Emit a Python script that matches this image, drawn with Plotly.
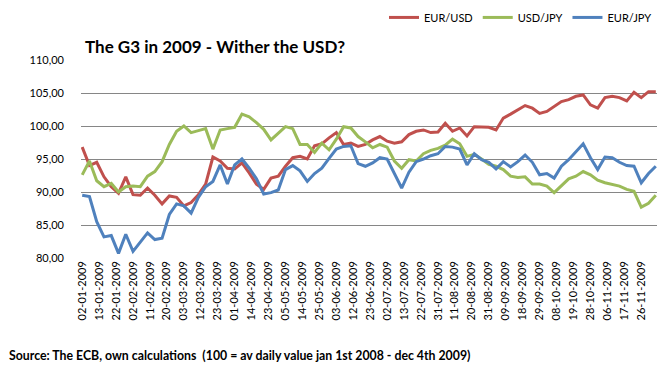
import pandas as pd
import plotly.graph_objects as go

# Business days (ECB fixing days) 02-01-2009 .. 04-12-2009
holidays = ["2009-04-10", "2009-04-13", "2009-05-01"]
all_days = [d for d in pd.bdate_range("2009-01-02", "2009-12-04") if d.strftime("%Y-%m-%d") not in holidays]
categories = [d.strftime("%d-%m-%Y") for d in all_days]
tick_labels = categories[::7]
sample_dates = categories[::3]

eur_usd = [96.8, 94.0, 94.5, 92.3, 90.8, 89.8, 92.3, 89.6, 89.5, 90.6,
           89.5, 88.2, 89.4, 89.2, 87.9, 88.4, 89.6, 91.2, 95.3, 94.7,
           93.6, 93.5, 94.4, 92.9, 91.2, 90.4, 92.1, 92.4, 93.9, 95.2,
           95.4, 95.0, 97.0, 97.3, 98.2, 99.0, 97.2, 97.4, 96.9, 97.2,
           97.9, 98.4, 97.7, 97.4, 97.6, 98.7, 99.2, 99.4, 99.0, 99.1,
           100.4, 99.2, 99.7, 98.5, 99.9, 99.8, 99.8, 99.4, 101.2, 101.8,
           102.5, 103.1, 102.7, 101.9, 102.2, 103.0, 103.7, 104.0, 104.5, 104.7,
           103.2, 102.7, 104.3, 104.5, 104.3, 103.8, 105.1, 104.3, 105.2, 105.2]

usd_jpy = [92.6, 94.7, 91.7, 90.8, 91.3, 90.0, 90.8, 90.9, 90.8, 92.4,
           93.1, 94.6, 97.2, 99.2, 100.0, 99.0, 99.3, 99.6, 96.5, 99.4,
           99.6, 99.8, 101.8, 101.4, 100.5, 99.5, 97.9, 98.9, 99.9, 99.6,
           97.2, 97.2, 96.0, 97.4, 96.4, 98.0, 99.9, 99.7, 98.4, 97.6,
           96.7, 97.2, 96.8, 94.7, 93.6, 94.9, 94.7, 95.8, 96.3, 96.6,
           97.1, 98.0, 97.3, 95.4, 95.7, 95.0, 94.2, 93.9, 93.4, 92.4,
           92.2, 92.3, 91.2, 91.2, 90.9, 89.9, 90.9, 92.0, 92.4, 93.1,
           92.6, 91.8, 91.4, 91.1, 90.9, 90.4, 90.1, 87.7, 88.3, 89.5]

eur_jpy = [89.5, 89.3, 85.5, 83.2, 83.4, 80.7, 83.6, 81.0, 82.4, 83.8,
           82.8, 83.0, 86.6, 88.2, 87.9, 86.8, 89.2, 90.8, 91.6, 94.1,
           91.2, 94.1, 95.0, 93.6, 92.0, 89.7, 89.9, 90.3, 93.4, 94.0,
           93.2, 91.6, 92.8, 93.6, 95.1, 96.5, 96.9, 97.0, 94.3, 93.9,
           94.4, 95.2, 95.0, 92.8, 90.6, 93.0, 94.6, 95.0, 95.5, 95.8,
           96.9, 96.8, 96.5, 94.1, 95.8, 94.9, 94.5, 93.5, 94.6, 93.8,
           94.6, 95.6, 94.5, 92.6, 92.8, 92.1, 93.9, 94.9, 96.1, 97.3,
           95.2, 93.4, 95.3, 95.2, 94.5, 94.0, 93.9, 91.4, 92.8, 93.9]

series = [("EUR/USD", eur_usd, "#C0504D"),
          ("USD/JPY", usd_jpy, "#9BBB59"),
          ("EUR/JPY", eur_jpy, "#4F81BD")]

FONT = "Lato, Calibri, Arial, sans-serif"

fig = go.Figure()
for name, vals, col in series:
    fig.add_trace(go.Scatter(x=sample_dates[:len(vals)], y=vals, name=name, mode="lines",
                             line=dict(color=col, width=3)))

fig.update_layout(
    width=658, height=370,
    margin=dict(l=81, r=1, t=60, b=112),
    paper_bgcolor="white", plot_bgcolor="white",
    separators=", ",
    font=dict(family=FONT, size=11, color="#000000"),
    showlegend=True,
    legend=dict(orientation="h", x=1.0, xanchor="right", y=1.215, yanchor="middle",
                font=dict(size=11, family=FONT), itemwidth=30,
                bgcolor="rgba(0,0,0,0)", traceorder="normal"),
    xaxis=dict(type="category", categoryorder="array", categoryarray=categories,
               range=[-0.5, len(categories) - 0.5],
               tickmode="array", tickvals=tick_labels, ticktext=tick_labels,
               tickangle=-90, showgrid=False, zeroline=False, showline=False,
               ticks="", tickfont=dict(size=11, family=FONT)),
    yaxis=dict(range=[80, 110], dtick=5, tickformat=".2f", showgrid=True,
               gridcolor="#868686", gridwidth=1, zeroline=False, showline=False,
               ticks="", ticklabelstandoff=16, tickfont=dict(size=11, family=FONT)),
    annotations=[
        dict(text="<b>The G3 in 2009 - Wither the USD?</b>", xref="paper", yref="paper",
             x=0.004, y=1.066, xanchor="left", yanchor="middle", showarrow=False,
             font=dict(size=17, family=FONT)),
        dict(text="<b>Source: The ECB, own calculations  (100 = av daily value jan 1st 2008 - dec 4th 2009)</b>",
             xref="paper", yref="paper", x=-0.128, y=-0.494, xanchor="left", yanchor="middle",
             showarrow=False, font=dict(size=12.3, family=FONT)),
    ],
)

fig.write_html("out.html", config={"displayModeBar": False},
               post_script="document.body.style.margin='0';")
